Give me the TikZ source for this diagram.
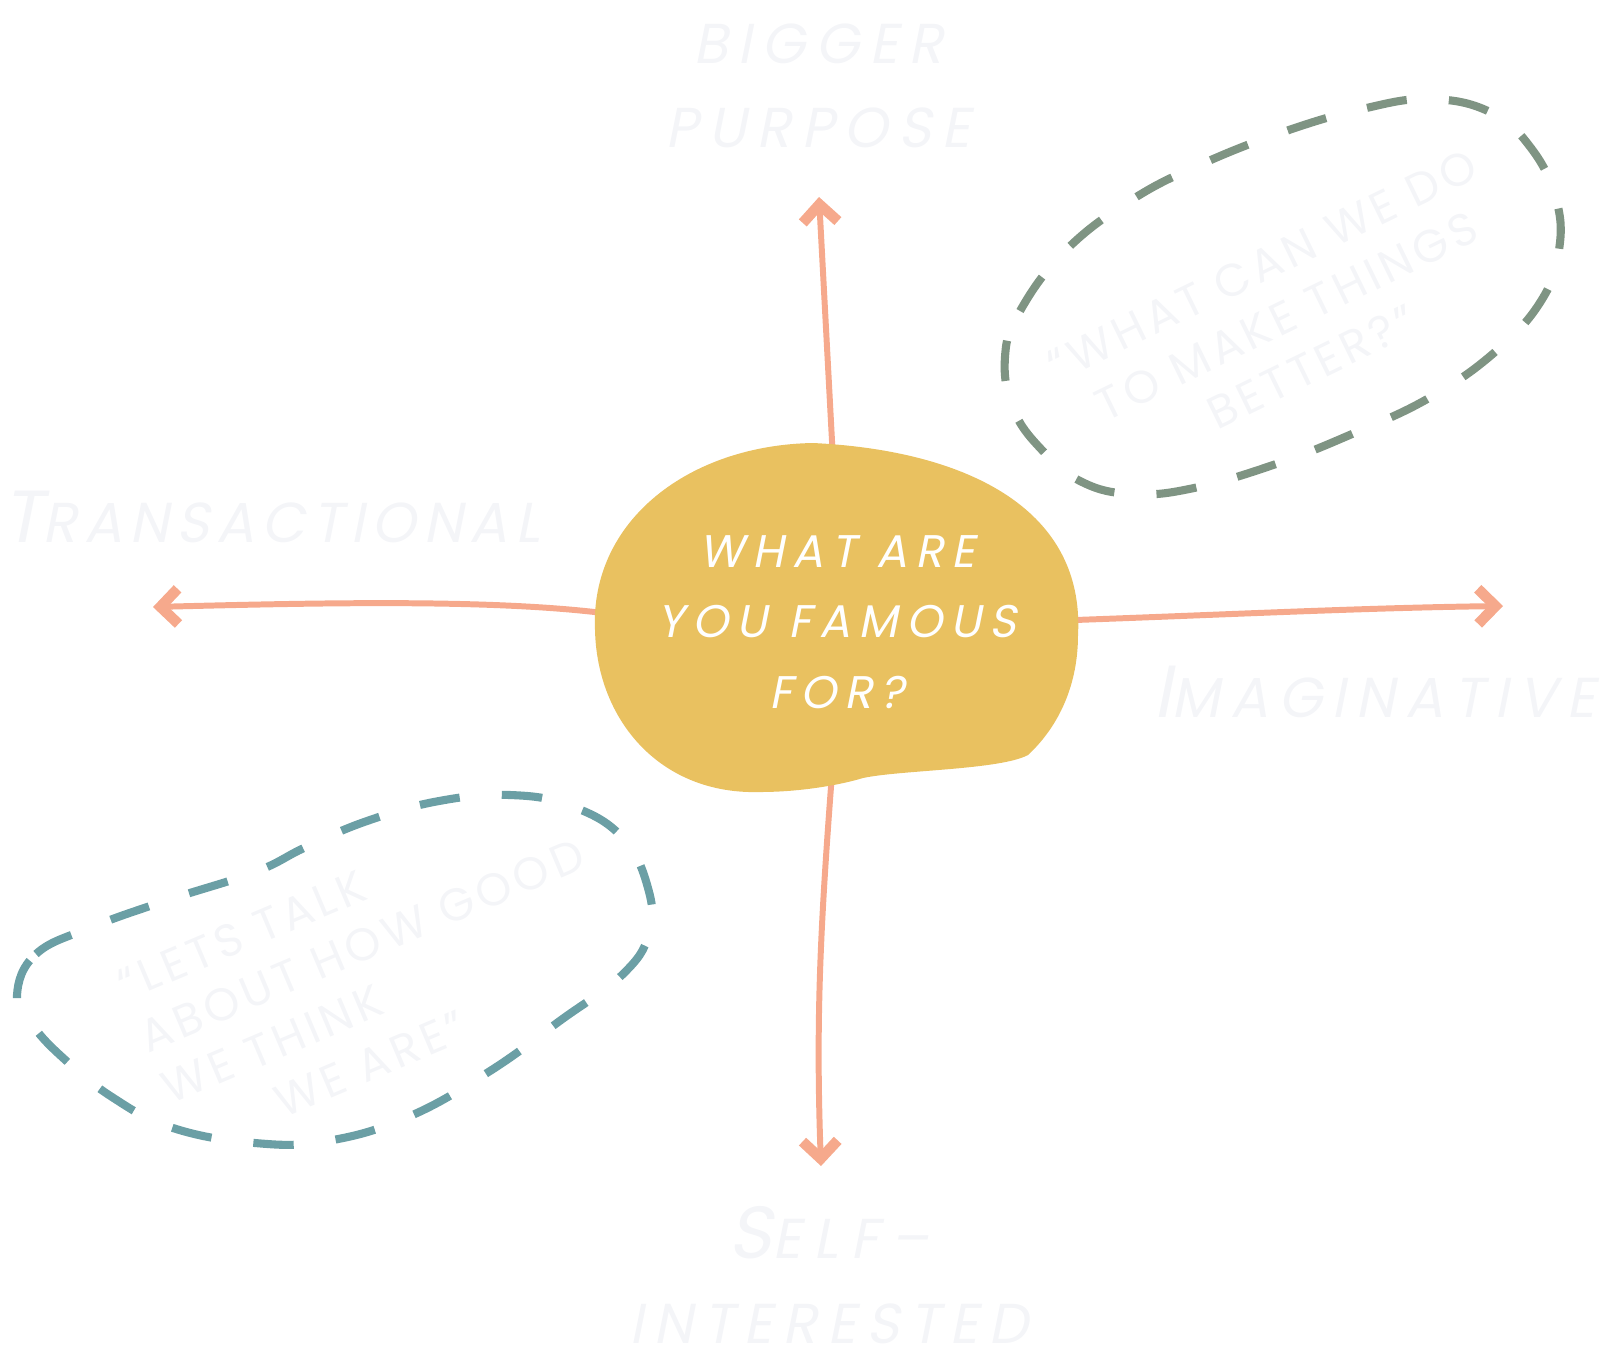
\documentclass[tikz,border=0pt]{standalone}
\usepackage{fontspec}
\usepackage{xcolor}
\usepackage{tikz}
\usetikzlibrary{arrows.meta, positioning, calc}
\newfontfamily\slantfont{Poppins}[FakeSlant=0.2]
\newfontfamily\plainfont{Poppins}
\definecolor{salmon}{HTML}{F6A98C}
\definecolor{mustard}{HTML}{E9C160}
\definecolor{sage}{HTML}{7F9483}
\definecolor{tealgrey}{HTML}{6B9FA5}
\definecolor{faint}{HTML}{F4F5F8}
\newcommand{\initcap}[1]{{\fontsize{21}{24}\selectfont #1}}
\pgfdeclarelayer{back}
\pgfsetlayers{back,main}
\tikzset{
    axisarrow/.style={
        salmon, line width=1.7pt,
        -{Straight Barb[length=5pt, width=10pt, line width=3pt, sharp]}
    },
    question/.style={
        align=center, text=white, inner sep=0pt,
        font=\slantfont\addfontfeatures{LetterSpace=18}\fontsize{13}{20}\selectfont
    },
    poletext/.style={
        align=center, text=faint, inner sep=0pt,
        font=\slantfont\addfontfeatures{LetterSpace=18}\fontsize{16}{24}\selectfont
    },
    quotetext/.style={
        align=center, text=faint, inner sep=0pt,
        font=\plainfont\addfontfeatures{LetterSpace=10}\fontsize{13}{16}\selectfont
    },
    dashloop/.style={
        line width=2.3pt, dash pattern=on 11.5pt off 12pt
    }
}
\begin{document}
\begin{tikzpicture}[x=0.01cm, y=-0.01cm]
    \useasboundingbox (0,0) rectangle (1600,1363);

    % centre blob
    \fill[mustard] (813,443) .. controls (960,450) and (1085,505) .. (1078,635)
        .. controls (1078,690) and (1055,730) .. (1028,755)
        .. controls (1000,770) and (900,770) .. (863,778)
        .. controls (840,785) and (800,792) .. (760,792)
        .. controls (660,795) and (597,720) .. (595,630)
        .. controls (590,520) and (690,445) .. cycle;
    \node[question] (q) at (837,622) {WHAT ARE\\YOU FAMOUS\\FOR?};

    % ends of the axes
    \coordinate (upTip) at (819,197);
    \coordinate (downTip) at (821,1166);
    \coordinate (leftTip) at (153,607);
    \coordinate (rightTip) at (1503,606);

    \begin{pgfonlayer}{back}
        \draw[axisarrow] (q.north) -- (upTip);
        \draw[axisarrow] (q.south) .. controls (822,900) and (815,1000) .. (downTip);
        \draw[axisarrow] (q.west) .. controls (550,598) and (350,602) .. (leftTip);
        \draw[axisarrow] (q.east) .. controls (1200,616) and (1350,608) .. (rightTip);
    \end{pgfonlayer}

    % axis labels
    \node[poletext] (bigger) at (818,86) {BIGGER\\PURPOSE};
    \node[poletext, anchor=base west] (transact) at (2,542)
        {\addfontfeatures{LetterSpace=13}\initcap{T}RANSACTIONAL};
    \node[poletext, anchor=base east] (imagin) at (1596,717) {\initcap{I}MAGINATIVE};
    \node[poletext] (selfint) at (829,1275)
        {\addfontfeatures{LetterSpace=22}\initcap{S}ELF–\\INTERESTED};

    % dashed loops with quotes
    \draw[dashloop, sage] plot[smooth cycle, tension=0.7] coordinates {
        (1005,357) (1020,311) (1066,250) (1133,199) (1204,163) (1286,131)
        (1362,109) (1429,99) (1490,112) (1531,148) (1556,199) (1559,250)
        (1541,301) (1495,352) (1429,398) (1352,434) (1276,464) (1194,488)
        (1133,494) (1082,482) (1041,449) (1013,408)};
    \node[quotetext, rotate=26] (better) at (1287,316)
        {“WHAT CAN WE DO\\TO MAKE THINGS\\BETTER?”};

    \draw[dashloop, tealgrey] plot[smooth cycle, tension=0.7] coordinates {
        (17,995) (36,954) (92,927) (168,900) (255,872) (306,847) (367,821)
        (439,801) (510,795) (571,806) (622,837) (648,888) (649,934)
        (622,975) (561,1020) (490,1071) (408,1117) (327,1141) (255,1143)
        (173,1128) (112,1097) (61,1056) (31,1023)};
    \node[quotetext, align=left, rotate=23] (talk) at (373,971)
        {“LETS TALK\\ABOUT HOW GOOD\\WE THINK\\\hspace*{28pt}WE ARE”};
\end{tikzpicture}
\end{document}
